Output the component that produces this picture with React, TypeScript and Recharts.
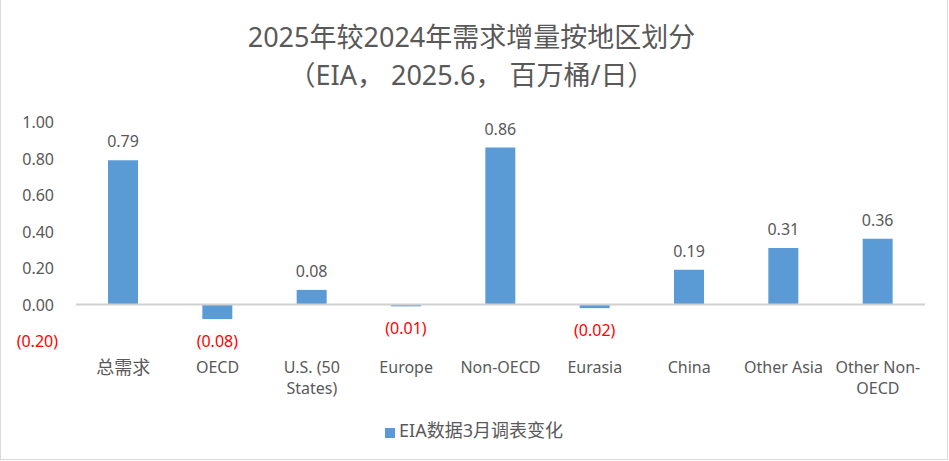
import React from 'react';
import { BarChart, Bar, XAxis, YAxis, ReferenceLine, Legend, LabelList } from 'recharts';

const categories = ['总需求', 'OECD', 'U.S. (50\nStates)', 'Europe', 'Non-OECD', 'Eurasia', 'China', 'Other Asia', 'Other Non-\nOECD'];
const changes = [0.79, -0.08, 0.08, -0.01, 0.86, -0.02, 0.19, 0.31, 0.36];
const yTicks = [-0.2, 0, 0.2, 0.4, 0.6, 0.8, 1.0];
const seriesName = 'EIA数据3月调表变化';
const titleLines = ['2025年较2024年需求增量按地区划分', '（EIA， 2025.6， 百万桶/日）'];

const data = categories.map((name, i) => ({ name, value: changes[i] }));

const FONT = "'Noto Sans', 'Noto Sans CJK SC', sans-serif";
const TEXT = '#595959';
const BAR = '#5B9BD5';

const fmt = (v: number) => (v < 0 ? `(${Math.abs(v).toFixed(2)})` : v.toFixed(2));
const hasCJK = (s: string) => /[\u4e00-\u9fff]/.test(s);

// Excel's "0.00_);(0.00)" leaves room for a ")" after positive ticks
const YTick = (props: any) => {
  const v = props.payload.value;
  return (
    <text x={v < 0 ? 58 : 54} y={props.y} textAnchor="end" dominantBaseline="central" fontSize={16} fontFamily={FONT} fill={v < 0 ? '#FF0000' : TEXT}>
      {fmt(v)}
    </text>
  );
};

const XTick = (props: any) => {
  const lines = String(props.payload.value).split('\n');
  return (
    <g>
      {lines.map((l, i) => (
        <text key={i} x={props.x} y={props.y + 25.5 + i * 21} textAnchor="middle" dominantBaseline="central" fontSize={hasCJK(l) ? 18 : 16} fontFamily={FONT} fill={TEXT}>
          {l}
        </text>
      ))}
    </g>
  );
};

const ValueLabel = (props: any) => {
  const { x, y, width, height, value } = props;
  const top = Math.min(y, y + height);
  const bottom = Math.max(y, y + height);
  const neg = value < 0;
  return (
    <text x={x + width / 2} y={neg ? bottom + 22 : top - 19} textAnchor="middle" dominantBaseline="central" fontSize={16} fontFamily={FONT} fill={neg ? '#FF0000' : TEXT}>
      {fmt(value)}
    </text>
  );
};

export default function App() {
  return (
    <div style={{ position: 'absolute', left: 0, top: 0, width: 949, height: 461, background: '#fff', fontFamily: FONT }}>
      <div style={{ position: 'absolute', left: 0, top: 0, width: 948, height: 460, border: '1px solid #d9d9d9', borderTop: 'none', boxSizing: 'border-box' }} />
      {titleLines.map((t, i) => (
        <div key={i} style={{ position: 'absolute', left: 0, width: 943, top: 19 + i * 38, textAlign: 'center', fontSize: 27, lineHeight: '36px', color: TEXT }}>
          {t}
        </div>
      ))}
      <BarChart width={949} height={461} data={data} margin={{ top: 122, right: 24, bottom: 90, left: 16 }}>
        <XAxis dataKey="name" axisLine={false} tickLine={false} tickSize={0} tickMargin={0} height={30} tick={<XTick />} interval={0} />
        <YAxis domain={[-0.2, 1.0]} ticks={yTicks} width={60} axisLine={false} tickLine={false} tick={<YTick />} />
        <ReferenceLine y={0} stroke="#d0d0d0" strokeWidth={2} />
        <Legend
          verticalAlign="middle"
          iconType="square"
          iconSize={10}
          wrapperStyle={{ top: 416, left: 0, width: 958 }}
          formatter={(value) => <span style={{ color: TEXT, fontSize: 18, fontFamily: FONT }}>{value}</span>}
        />
        <Bar dataKey="value" name={seriesName} fill={BAR} barSize={30} isAnimationActive={false}>
          <LabelList dataKey="value" content={<ValueLabel />} />
        </Bar>
      </BarChart>
    </div>
  );
}
